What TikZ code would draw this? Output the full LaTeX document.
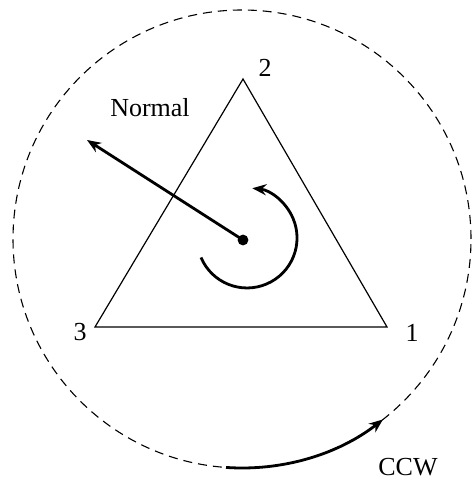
\documentclass[tikz,border=0pt]{standalone}
\usepackage{fontspec}
\setmainfont{Liberation Serif}
\usetikzlibrary{arrows.meta, calc}

\begin{document}
\begin{tikzpicture}[
  x=0.5pt, y=0.5pt,
  >={Stealth[length=7pt, width=5.5pt]},
  lbl/.style={font=\fontsize{13}{15}\selectfont, text=black, inner sep=0pt},
  edge/.style={line width=0.6pt, black},
  arr/.style={->, line width=1.4pt, black},
]

% Frame of the picture
\useasboundingbox (0,0) rectangle (472,481);

% Dashed orbit
\coordinate (ctr) at (242,242);
\draw[line width=0.55pt, dash pattern=on 4.5pt off 3pt] (ctr) circle[radius=229];

% =============================================
% Triangle with its vertex numbers
% =============================================
\coordinate (v1) at (387,154);
\coordinate (v2) at (243,402);
\coordinate (v3) at (95,154);
\draw[edge, line join=miter] (v1) -- (v2) -- (v3) -- cycle;

\node[lbl] (n1) at (412,148) {1};
\node[lbl] (n2) at (265,413) {2};
\node[lbl] (n3) at (80,149) {3};

% =============================================
% Normal vector
% =============================================
\node[circle, fill=black, inner sep=0pt, minimum size=5.4pt] (dot) at (243,241) {};
\coordinate (ntip) at (87,341);
\draw[arr] (dot.center) -- (ntip);
\node[lbl] (normal) at (150,373) {Normal};

% Turning sense round the centre
\draw[arr] (201,223.5) arc[start angle=203, end angle=444, radius=50];

% =============================================
% CCW sense on the orbit
% =============================================
\draw[arr] ($(ctr)+(266:229)$) arc[start angle=266, end angle=308, radius=229];
\node[lbl] (ccw) at (408,14) {CCW};

\end{tikzpicture}
\end{document}
